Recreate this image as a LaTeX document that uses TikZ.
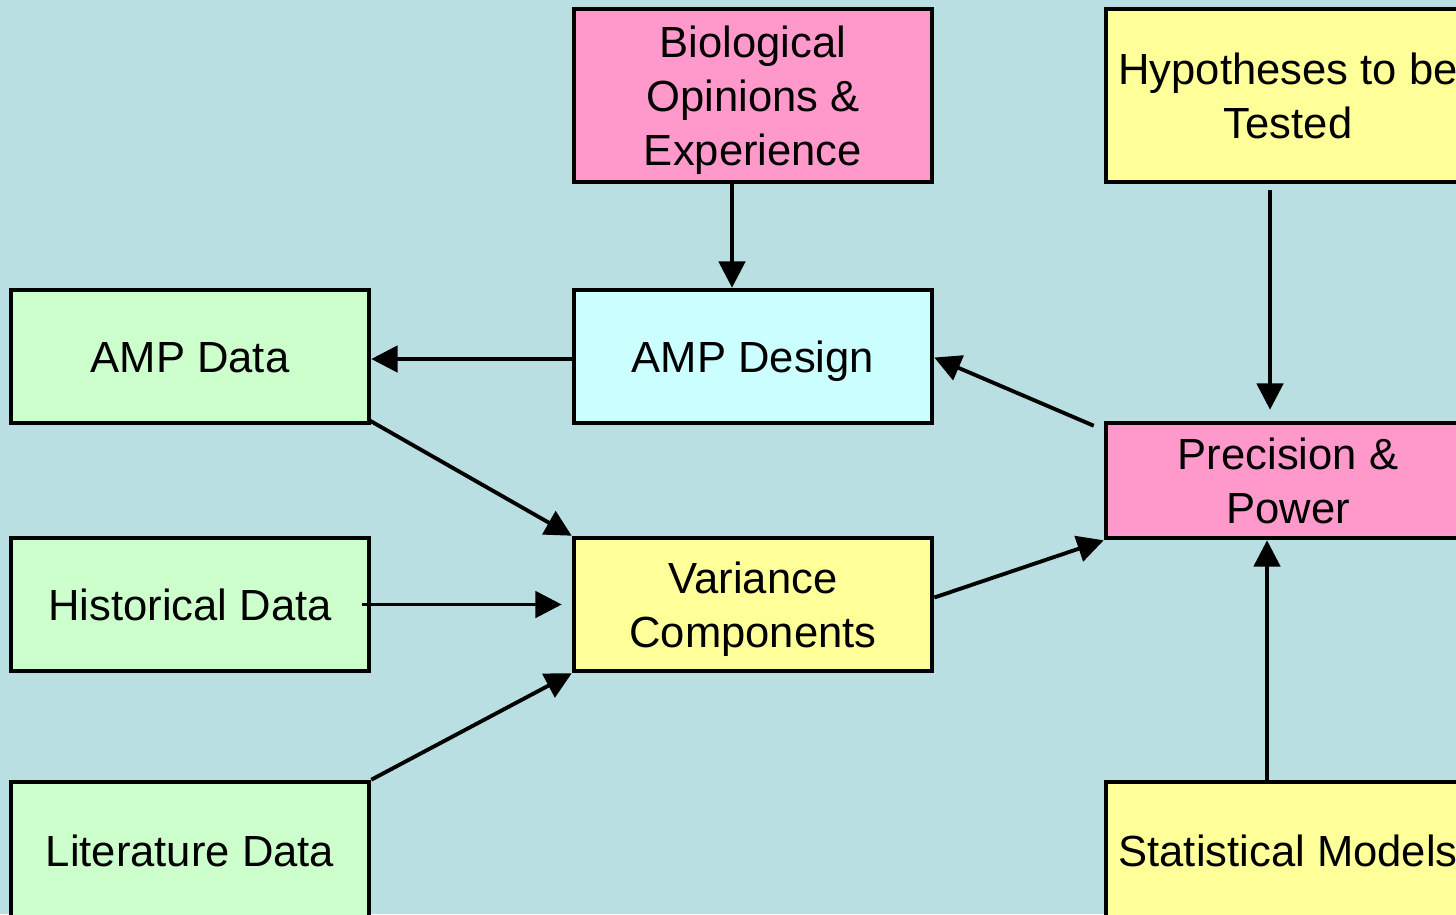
\documentclass[tikz,border=0pt]{standalone}
\usepackage{fontspec}
\setmainfont{Liberation Sans}
\usetikzlibrary{arrows.meta}
\definecolor{bgblue}{HTML}{B9DFE3}
\definecolor{boxpink}{HTML}{FF99CC}
\definecolor{boxyellow}{HTML}{FFFF99}
\definecolor{boxgreen}{HTML}{CCFFCC}
\definecolor{boxcyan}{HTML}{CCFFFF}
% strut that keeps the capitals centred in each box
\newcommand{\pstrut}{\rule[-3pt]{0pt}{14.9pt}}
\tikzset{
  box/.style={draw, line width=1.3pt, align=center, inner sep=0pt,
    minimum width=3.58cm, minimum height=1.33cm,
    font=\fontsize{12.4}{15.4}\selectfont},
  wide/.style={minimum width=3.64cm},
  flow/.style={line width=1.1pt, -{Triangle[length=7.5pt,width=7.5pt]}}
}
\begin{document}
\begin{tikzpicture}
      \useasboundingbox (0,0) rectangle (14.56,9.14);
      \fill[bgblue] (0,0) rectangle (14.56,9.14);
      \clip (0,0) rectangle (14.56,9.14);
      \draw
        (7.53,8.185) node[box, fill=boxpink, minimum height=1.73cm] (bio){\pstrut Biological\\Opinions \&\\Experience\pstrut}
        (12.88,8.185) node[box, wide, fill=boxyellow, minimum height=1.73cm] (hyp){\pstrut Hypotheses to be\\Tested\pstrut}
        (1.90,5.575) node[box, fill=boxgreen] (ampdata){\pstrut AMP Data}
        (7.53,5.575) node[box, fill=boxcyan] (ampdesign){\pstrut AMP Design}
        (12.88,4.335) node[box, wide, fill=boxpink, minimum height=1.15cm] (prec){\pstrut Precision \&\\Power\pstrut}
        (1.90,3.095) node[box, fill=boxgreen] (hist){\pstrut Historical Data}
        (7.53,3.095) node[box, fill=boxyellow] (var){\pstrut Variance\\Components\pstrut}
        (1.90,0.63) node[box, fill=boxgreen, minimum height=1.38cm] (lit){\pstrut Literature Data}
        (12.88,0.63) node[box, wide, fill=boxyellow, minimum height=1.38cm] (stat){\pstrut Statistical Models};
      \begin{scope}[flow]
        \draw ([xshift=-2.1mm]bio.south) to ([xshift=-2.1mm]ampdesign.north);
        \draw ([yshift=-0.25mm]ampdesign.west) to ([yshift=-0.25mm]ampdata.east);
        \draw ([shift={(-1mm,-0.5mm)}]prec.north west) to ([yshift=-0.1mm]ampdesign.east);
        \draw[shorten <=0.6mm, shorten >=1.1mm] ([xshift=-1.8mm]hyp.south) to ([xshift=-1.8mm]prec.north);
        \draw ([shift={(-0.2mm,0.5mm)}]ampdata.south east) to (var.north west);
        \draw[shorten <=-0.9mm, shorten >=1mm] (hist.east) to (var.west);
        \draw (lit.north east) to (var.south west);
        \draw ([yshift=0.7mm]var.east) to (prec.south west);
        \draw ([xshift=-2.1mm]stat.north) to ([xshift=-2.1mm]prec.south);
      \end{scope}
    \end{tikzpicture}
\end{document}
